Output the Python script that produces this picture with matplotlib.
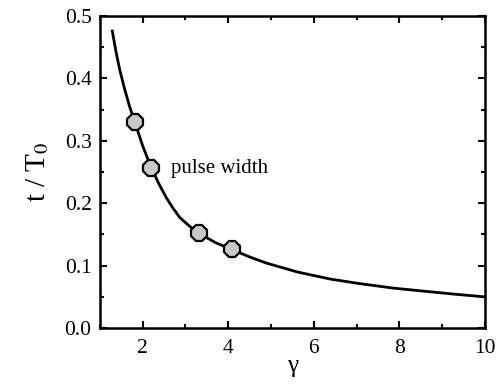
import matplotlib
matplotlib.use("Agg")
import matplotlib.pyplot as plt
from matplotlib.ticker import MultipleLocator, FormatStrFormatter

plt.rcParams['font.family'] = ['Liberation Serif', 'DejaVu Serif']
plt.rcParams['mathtext.fontset'] = 'stix'

# curve
gamma_curve = [1.29, 1.37, 1.46, 1.57, 1.69, 1.81, 2.00, 2.20, 2.38, 2.56, 2.72, 2.87,
               3.10, 3.31, 3.70, 4.08, 4.50, 4.90, 5.61, 6.39, 7.10, 7.87, 8.60, 9.27, 10.0]
t_curve = [0.476, 0.445, 0.415, 0.385, 0.356, 0.331, 0.292, 0.257, 0.231, 0.208, 0.191, 0.177,
           0.163, 0.152, 0.137, 0.126, 0.114, 0.104, 0.090, 0.0785, 0.071, 0.064, 0.059, 0.0545, 0.050]

# highlighted points
gamma_pts = [1.81, 2.20, 3.31, 4.08]
t_pts = [0.331, 0.256, 0.152, 0.126]

fig = plt.figure(figsize=(5.02, 3.86), dpi=100)
ax = fig.add_axes([0.199, 0.150, 0.767, 0.8085])

ax.plot(gamma_curve, t_curve, color='black', lw=2.0, zorder=2, solid_joinstyle='round')
ax.plot(gamma_pts, t_pts, linestyle='none', marker='8', markersize=12,
        markerfacecolor='#c8c8c8', markeredgecolor='black', markeredgewidth=1.6, zorder=3)

ax.text(2.67, 0.256, 'pulse width', fontsize=15, va='center', ha='left')

ax.set_xlim(1, 10)
ax.set_ylim(0, 0.5)
ax.xaxis.set_major_locator(MultipleLocator(2))
ax.xaxis.set_minor_locator(MultipleLocator(1))
ax.yaxis.set_major_locator(MultipleLocator(0.1))
ax.yaxis.set_minor_locator(MultipleLocator(0.05))
ax.yaxis.set_major_formatter(FormatStrFormatter('%.1f'))

ax.tick_params(which='both', direction='in', top=True, right=True, labelsize=15.5, width=1.5)
ax.tick_params(which='major', length=5)
ax.tick_params(which='minor', length=3)
ax.tick_params(axis='x', which='major', pad=8)
ax.tick_params(axis='y', which='major', pad=6)
for s in ax.spines.values():
    s.set_linewidth(1.8)

ax.set_xlabel('γ', fontsize=18, labelpad=-2)
ax.set_ylabel(r't / T$_0$', fontsize=21, labelpad=10)

fig.savefig('out.png', dpi=100)
